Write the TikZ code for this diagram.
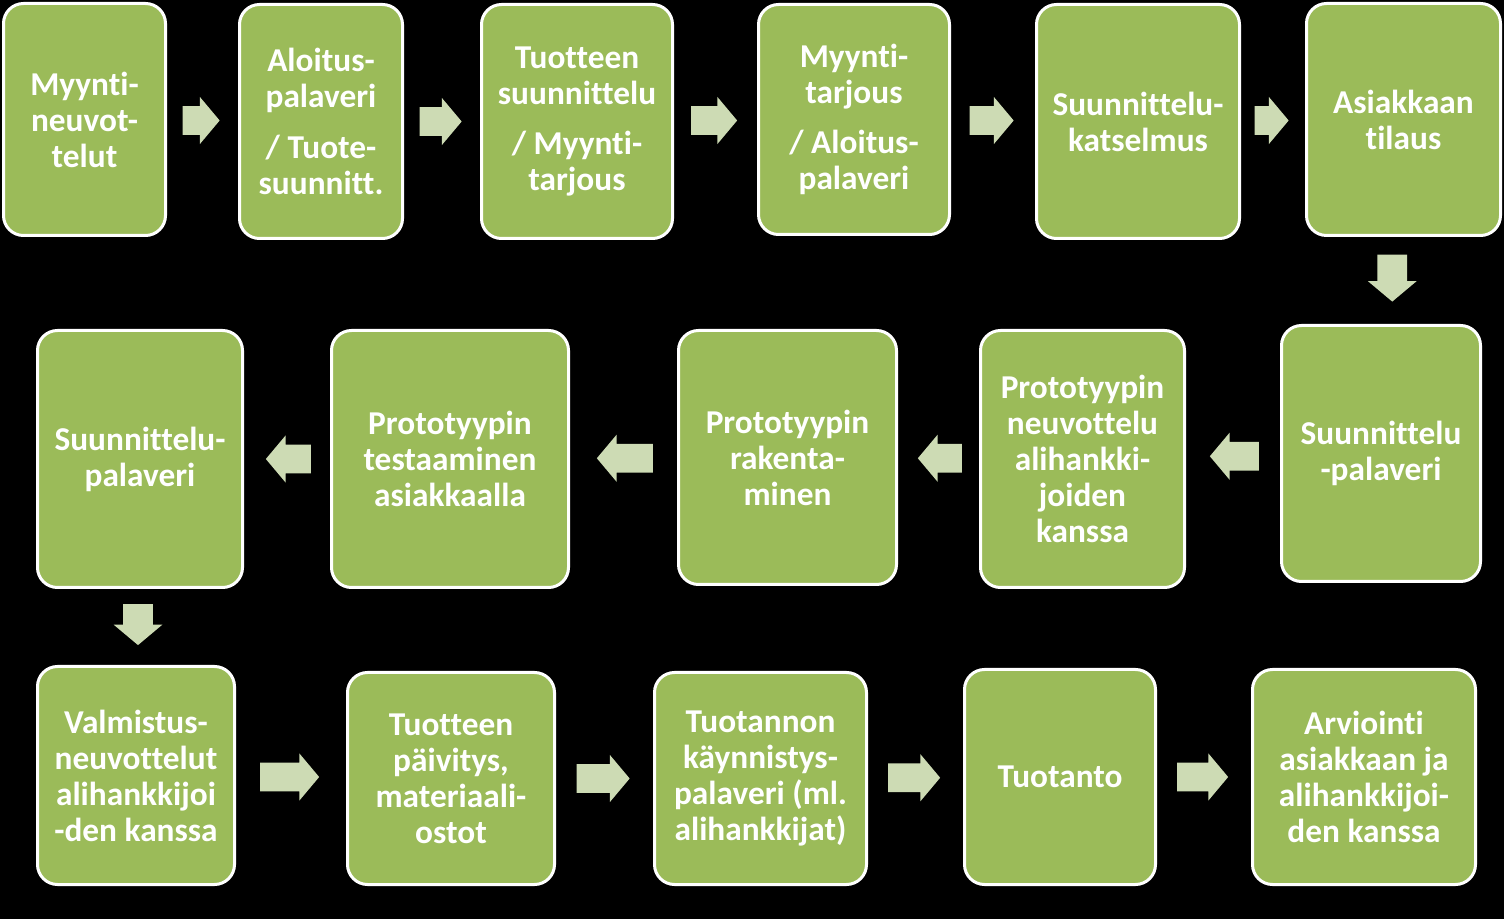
\documentclass[tikz,border=0pt]{standalone}
\usepackage{fontspec}
\setmainfont[Ligatures={NoCommon,NoContextual}, RawFeature={-liga;-clig;-calt;-dlig}]{Carlito}
\usetikzlibrary{calc, positioning, shapes.arrows}

\definecolor{boxgreen}{HTML}{9BBB59}
\definecolor{arrowgreen}{HTML}{CDDBB4}

\begin{document}
\begin{tikzpicture}[x=0.75pt, y=-0.75pt,
	main/.style = {draw=white, line width=2.25pt, fill=boxgreen, rounded corners=15pt,
		inner sep=0pt, align=center, text=white,
		font=\fontsize{25}{27}\selectfont\bfseries},
	flow/.style = {single arrow, fill=arrowgreen, draw=none, inner xsep=0pt, inner ysep=10.5pt,
		single arrow head extend=7pt, single arrow tip angle=100, minimum width=35pt},
	right/.style = {flow, xshift=-5.5pt},
	left/.style = {flow, shape border rotate=180, xshift=5.5pt},
	down/.style = {flow, shape border rotate=270, inner xsep=11pt, inner ysep=0pt, yshift=6.5pt}]
		\fill[black] (0,0) rectangle (1504,919);
		\node[main, minimum width=121.5pt, minimum height=174pt] (1) at (84.5,119.5) {Myynti-\\neuvot-\\telut};
		\node[main, minimum width=122.25pt, minimum height=175.5pt] (2) at (321,121.5) {Aloitus-\\palaveri\\[11pt]/ Tuote-\\suunnitt.};
		\node[main, minimum width=143.25pt, minimum height=175.5pt] (3) at (577,121.5) {Tuotteen\\suunnittelu\\[11pt]/ Myynti-\\tarjous};
		\node[main, minimum width=143.25pt, minimum height=172.5pt] (4) at (854,119.5) {Myynti-\\tarjous\\[11pt]/ Aloitus-\\palaveri};
		\node[main, minimum width=152.25pt, minimum height=175.5pt] (5) at (1138,121.5) {Suunnittelu-\\katselmus};
		\node[main, minimum width=145.5pt, minimum height=174pt] (6) at (1403.5,119.5) {Asiakkaan\\tilaus};
		\node[main, minimum width=149.25pt, minimum height=192pt] (7) at (1381,453.5) {Suunnittelu\\-palaveri};
		\node[main, minimum width=153pt, minimum height=192.75pt] (8) at (1082.5,459) {Prototyypin\\neuvottelu\\alihankki-\\joiden\\kanssa};
		\node[main, minimum width=163.5pt, minimum height=190.5pt] (9) at (787.5,457.5) {Prototyypin\\rakenta-\\minen};
		\node[main, minimum width=177.75pt, minimum height=192.75pt] (10) at (450,459) {Prototyypin\\testaaminen\\asiakkaalla};
		\node[main, minimum width=153.75pt, minimum height=192.75pt] (11) at (140,459) {Suunnittelu-\\palaveri};
		\node[main, minimum width=147.75pt, minimum height=163.5pt] (12) at (136,775.5) {Valmistus-\\neuvottelut\\alihankkijoi\\-den kanssa};
		\node[main, minimum width=155.25pt, minimum height=159pt] (13) at (451,778.5) {Tuotteen\\päivitys,\\materiaali-\\ostot};
		\node[main, minimum width=159pt, minimum height=159pt] (14) at (760.5,778.5) {Tuotannon\\käynnistys-\\palaveri (ml.\\alihankkijat)};
		\node[main, minimum width=143.25pt, minimum height=161.25pt] (15) at (1060,777) {Tuotanto};
		\node[main, minimum width=167.25pt, minimum height=161.25pt] (16) at (1364,777) {Arviointi\\asiakkaan ja\\alihankkijoi-\\den kanssa};
		\node[right, minimum height=27.75pt] (a1) at ($(1.east)!0.5!(2.west)$) {};
		\node[right, minimum height=31.5pt] (a2) at ($(2.east)!0.5!(3.west)$) {};
		\node[right, minimum height=34.5pt] (a3) at ($(3.east)!0.5!(4.west)$) {};
		\node[right, minimum height=33pt] (a4) at ($(4.east)!0.5!(5.west)$) {};
		\node[right, minimum height=25.5pt] (a5) at ($(5.east)!0.5!(6.west)$) {};
		\node[down, minimum height=35.25pt] (a6) at ($(6.south)!0.5!(7.north)$) {};
		\node[left, minimum height=36.75pt] (a7) at ($(7.west)!0.5!(8.east)$) {};
		\node[left, minimum height=33pt] (a8) at ($(8.west)!0.5!(9.east)$) {};
		\node[left, minimum height=42pt] (a9) at ($(9.west)!0.5!(10.east)$) {};
		\node[left, minimum height=33.75pt] (a10) at ($(10.west)!0.5!(11.east)$) {};
		\node[down, minimum height=30.75pt] (a11) at ($(11.south)!0.5!(12.north)$) {};
		\node[right, minimum height=44.25pt] (a12) at ($(12.east)!0.5!(13.west)$) {};
		\node[right, minimum height=39.75pt] (a13) at ($(13.east)!0.5!(14.west)$) {};
		\node[right, minimum height=39pt] (a14) at ($(14.east)!0.5!(15.west)$) {};
		\node[right, minimum height=38.25pt] (a15) at ($(15.east)!0.5!(16.west)$) {};
	\end{tikzpicture}
\end{document}
